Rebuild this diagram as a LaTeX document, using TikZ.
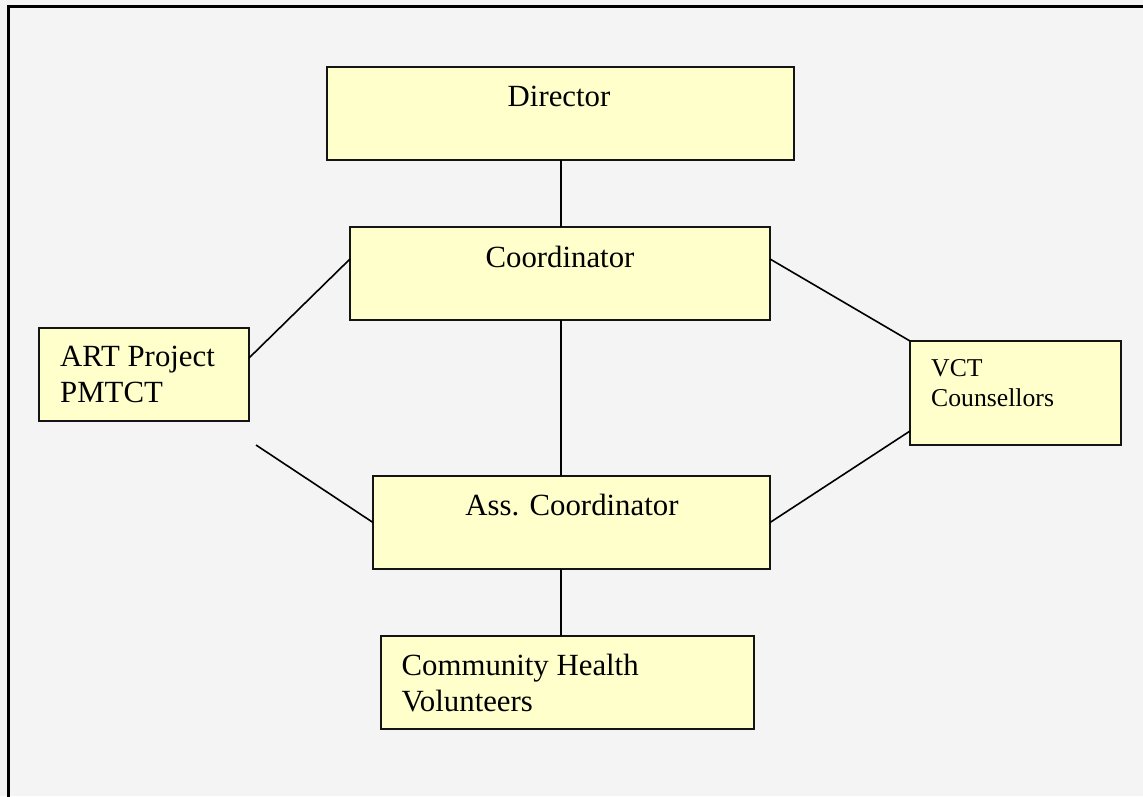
\documentclass[tikz,border=0pt]{standalone}
\usepackage{fontspec}
\setmainfont{Liberation Serif}
\usetikzlibrary{calc}
\definecolor{bg}{HTML}{F4F4F4}
\definecolor{boxfill}{HTML}{FFFFCC}
\definecolor{edge}{HTML}{141414}
\tikzset{
  orgbox/.style={draw=edge, fill=boxfill, line width=1.8pt, inner sep=0pt, outer sep=0pt},
  link/.style={draw=black, line width=1.6pt},
  big/.style={inner sep=0pt, font=\fontsize{30.8}{36}\selectfont},
  small/.style={inner sep=0pt, font=\fontsize{25.7}{30}\selectfont},
}
\begin{document}
\begin{tikzpicture}[x=1pt,y=-1pt]
\useasboundingbox (0,0) rectangle (1143,796);
\fill[bg] (0,0) rectangle (1143,796);
\draw[line width=3pt] (8.5,800) -- (8.5,6.5) -- (1150,6.5);

\node[orgbox, minimum width=467pt, minimum height=93pt] (dir) at (560.5,113.5) {};
\node[orgbox, minimum width=420pt, minimum height=93pt] (coor) at (560,273.5) {};
\node[orgbox, minimum width=210pt, minimum height=93pt] (art) at (144,374.5) {};
\node[orgbox, minimum width=211pt, minimum height=104pt] (vct) at (1015.5,393) {};
\node[orgbox, minimum width=397pt, minimum height=93pt] (ass) at (571.5,522.5) {};
\node[orgbox, minimum width=373pt, minimum height=93pt] (com) at (567.5,682.5) {};

\node[big, anchor=base] (tdir) at (559,106.5) {Director};
\node[big, anchor=base] (tcoor) at (560,267) {Coordinator};
\node[big, anchor=base] (tass) at (572,515) {Ass. Coordinator};
\node[big, anchor=base west] (tart1) at (60,366) {ART Project};
\node[big, anchor=base west] (tart2) at (60,402) {PMTCT};
\node[small, anchor=base west] (tvct1) at (931,376) {VCT};
\node[small, anchor=base west] (tvct2) at (931,406) {Counsellors};
\node[big, anchor=base west] (tcom1) at (401.5,675) {Community Health};
\node[big, anchor=base west] (tcom2) at (401.5,711) {Volunteers};

\coordinate (free) at (256,445);

\draw[link] ([xshift=0.5pt]dir.south) -- ([xshift=0.5pt]dir.south |- coor.north);
\draw[link] ([xshift=1pt]coor.south) -- ([xshift=1pt]coor.south |- ass.north);
\draw[link] ([xshift=1pt]coor.south |- ass.south) -- ([xshift=1pt]coor.south |- com.north);
\draw[link] ([yshift=14.5pt]coor.west) -- ([yshift=16.5pt]art.east);
\draw[link] (free) -- (ass.west);
\draw[link] ([yshift=14.5pt]coor.east) -- (vct.north west);
\draw[link] (ass.east) -- ([yshift=-38pt]vct.west);
\end{tikzpicture}
\end{document}
